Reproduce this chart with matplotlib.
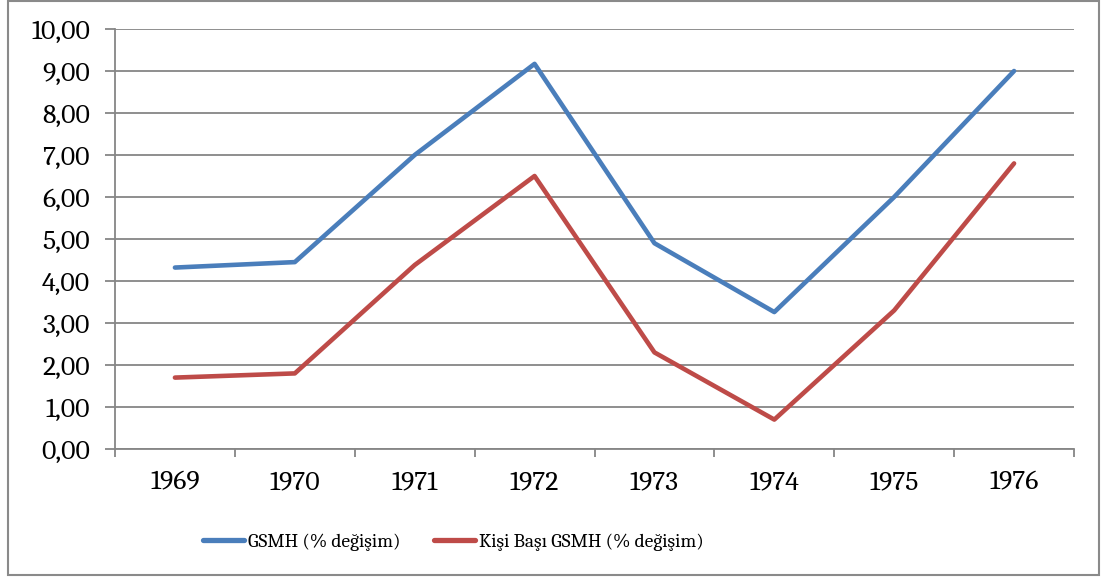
import matplotlib
matplotlib.use("Agg")
import matplotlib.pyplot as plt
from matplotlib.patches import Rectangle
from matplotlib.ticker import FuncFormatter, FixedLocator

years = ["1969", "1970", "1971", "1972", "1973", "1974", "1975", "1976"]
gsmh = [4.32, 4.45, 7.00, 9.17, 4.90, 3.26, 6.00, 9.00]
kisi_basi = [1.70, 1.80, 4.38, 6.50, 2.30, 0.70, 3.30, 6.80]
series_labels = ["GSMH (% değişim)", "Kişi Başı GSMH (% değişim)"]

plt.rcParams['font.family'] = ['Caladea', 'Liberation Serif', 'DejaVu Serif']

W, H = 1105, 579
fig = plt.figure(figsize=(W / 100, H / 100), dpi=100)
ax = fig.add_axes([115 / W, 1 - 449 / H, (1074 - 115) / W, (449 - 29) / H])

grid_c = "#868686"
x = list(range(len(years)))
ax.plot(x, gsmh, color="#4A7EBB", lw=3.3, solid_capstyle="round", solid_joinstyle="round", label=series_labels[0], zorder=3)
ax.plot(x, kisi_basi, color="#BE4B48", lw=3.3, solid_capstyle="round", solid_joinstyle="round", label=series_labels[1], zorder=3)

ax.set_xlim(-0.5, len(years) - 0.5)
ax.set_ylim(0, 10)
ax.set_yticks([i for i in range(11)])
ax.yaxis.set_major_formatter(FuncFormatter(lambda v, p: f"{v:.2f}".replace(".", ",")))
ax.yaxis.grid(True, color=grid_c, lw=1.3)
ax.set_axisbelow(True)

ax.set_xticks(x)
ax.set_xticklabels(years)
ax.xaxis.set_minor_locator(FixedLocator([i - 0.5 for i in range(len(years) + 1)]))
ax.tick_params(axis="x", which="major", length=0, pad=15, labelsize=20)
ax.tick_params(axis="x", which="minor", length=6, width=1.3, color=grid_c)
ax.tick_params(axis="y", length=7, width=1.3, color=grid_c, pad=11, labelsize=20)

for s in ["top", "right"]:
    ax.spines[s].set_visible(False)
for s in ["left", "bottom"]:
    ax.spines[s].set_color(grid_c)
    ax.spines[s].set_linewidth(1.3)

leg = fig.legend(loc="center left", bbox_to_anchor=(203 / W, 1 - 542 / H), ncol=2, frameon=False,
                 fontsize=14, handlelength=2.1, handletextpad=0.2, columnspacing=1.75,
                 borderpad=0, borderaxespad=0)
for l in leg.get_lines():
    l.set_linewidth(3.8)

fig.patches.append(Rectangle((8 / W, 1 - 575 / H), (1099 - 8) / W, (575 - 1) / H,
                             transform=fig.transFigure, fill=False, edgecolor="#8a8a8a", lw=1.5))

fig.savefig("out.png", dpi=100)
